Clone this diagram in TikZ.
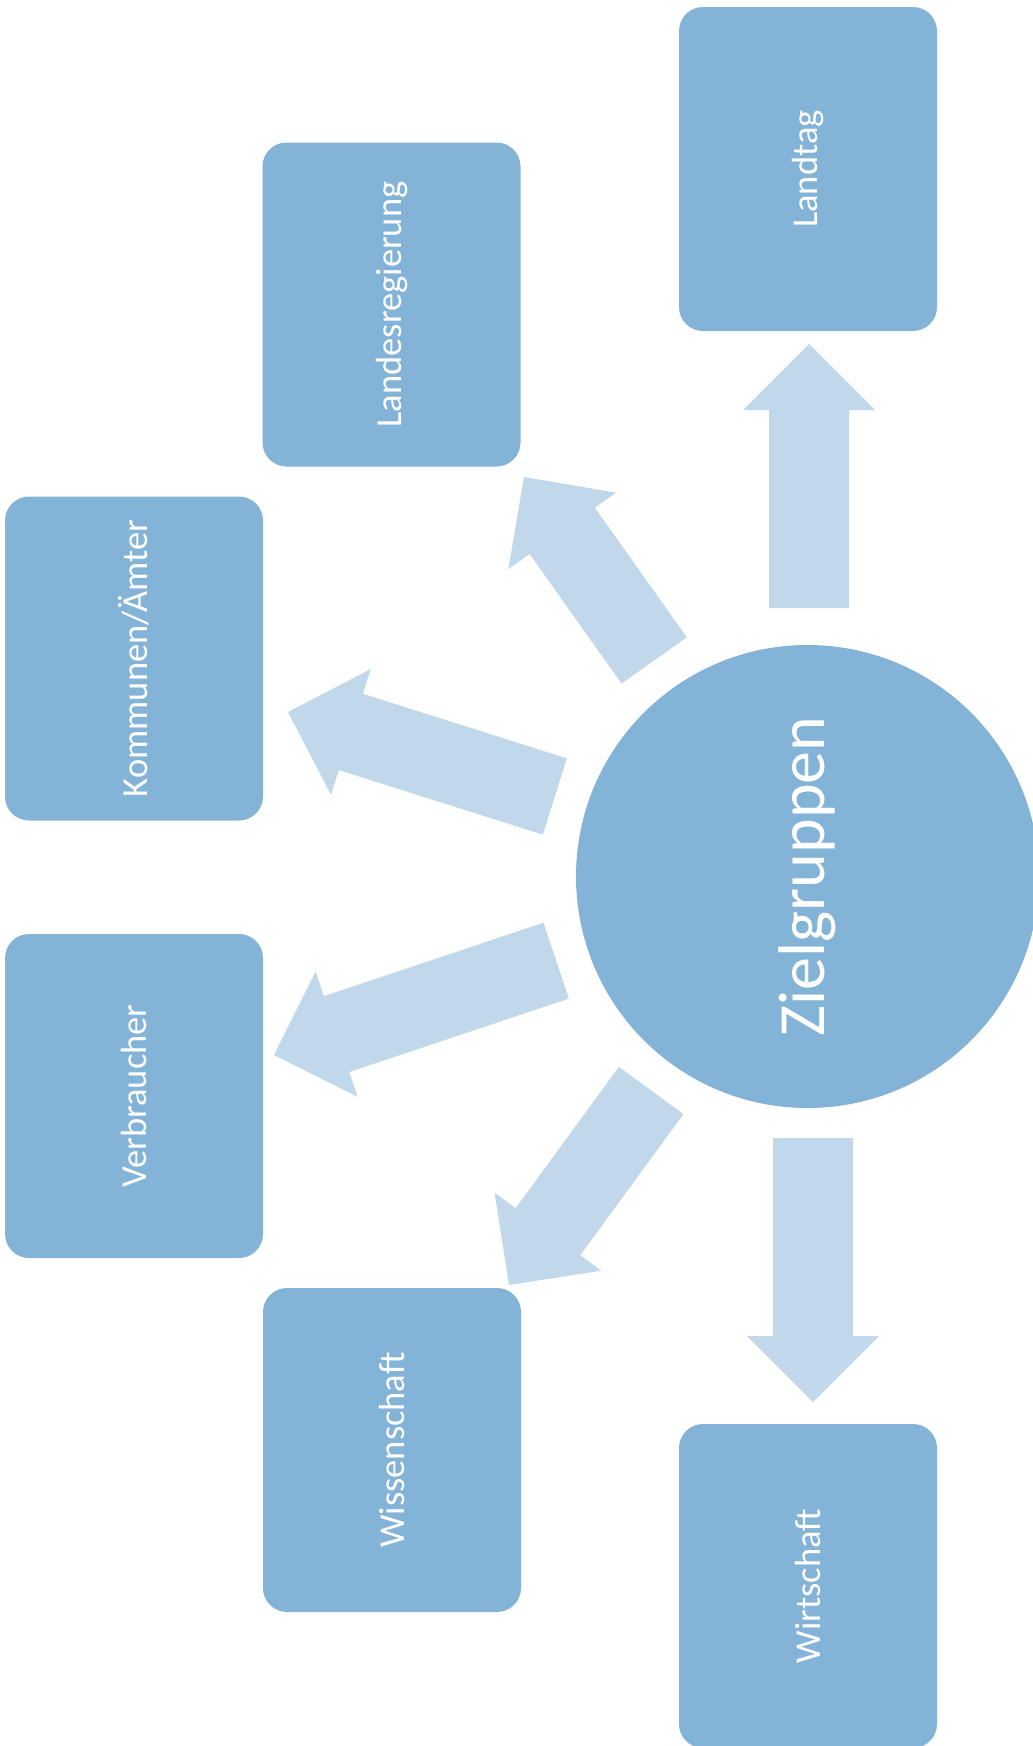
\documentclass[tikz,border=0pt]{standalone}
\usepackage{fontspec}
\setmainfont{Carlito}
\usetikzlibrary{calc}
\definecolor{boxblue}{RGB}{131,179,214}
\definecolor{arrowblue}{RGB}{193,215,234}

% block arrow from the shaft start #1 to the tip #2
\newcommand\blockarrow[2]{%
  \coordinate (hb) at ($(#2)!66pt!(#1)$);
  \fill[spokefill] ($(#1)!40pt!90:(#2)$) -- ($(hb)!40pt!90:(#2)$)
    -- ($(hb)!66pt!90:(#2)$) -- (#2) -- ($(hb)!66pt!-90:(#2)$)
    -- ($(hb)!40pt!-90:(#2)$) -- ($(#1)!40pt!-90:(#2)$) -- cycle;
}

\begin{document}
\begin{tikzpicture}[x=1pt,y=1pt,
  group/.style={rectangle, rounded corners=24pt, fill=boxblue, rotate=90,
    minimum width=324pt, minimum height=258pt, inner sep=0pt, text=white,
    font=\fontsize{36.5pt}{44pt}\selectfont},
  hub/.style={circle, fill=boxblue, rotate=90, minimum size=463pt,
    inner sep=0pt, text=white, font=\fontsize{66pt}{78pt}\selectfont},
  spokefill/.style={fill=arrowblue}]
\useasboundingbox (0,0) rectangle (1033,-1746);

% target groups
\node[group] (landtag)      at (808,-169)    {Landtag};
\node[group] (regierung)    at (391.5,-304.5) {Landesregierung};
\node[group] (kommunen)     at (134,-658.5)  {Kommunen/Ämter};
\node[group] (verbraucher)  at (134,-1096)   {Verbraucher};
\node[group] (wissenschaft) at (392,-1450)   {Wissenschaft};
\node[group] (wirtschaft)   at (808,-1586)   {Wirtschaft};

% centre
\node[hub] (zg) at (807.5,-876.5) {Zielgruppen};

% arrow tips
\coordinate (tLandtag)      at (809,-344);
\coordinate (tRegierung)    at (524,-477);
\coordinate (tKommunen)     at (288,-712);
\coordinate (tVerbraucher)  at (274,-1055);
\coordinate (tWissenschaft) at (509,-1285);
\coordinate (tWirtschaft)   at (813,-1402);

% shaft starts, just outside the circle
\coordinate (sLandtag)      at ($(tLandtag |- zg.center)+(0,268.5)$);
\coordinate (sRegierung)    at ($(zg.center)!265pt!(tRegierung)$);
\coordinate (sKommunen)     at ($(zg.center)!265pt!(tKommunen)$);
\coordinate (sVerbraucher)  at ($(zg.center)!265pt!(tVerbraucher)$);
\coordinate (sWissenschaft) at ($(zg.center)!265pt!(tWissenschaft)$);
\coordinate (sWirtschaft)   at ($(tWirtschaft |- zg.center)+(0,-261.5)$);

\blockarrow{sLandtag}{tLandtag}
\blockarrow{sRegierung}{tRegierung}
\blockarrow{sKommunen}{tKommunen}
\blockarrow{sVerbraucher}{tVerbraucher}
\blockarrow{sWissenschaft}{tWissenschaft}
\blockarrow{sWirtschaft}{tWirtschaft}
\end{tikzpicture}
\end{document}
